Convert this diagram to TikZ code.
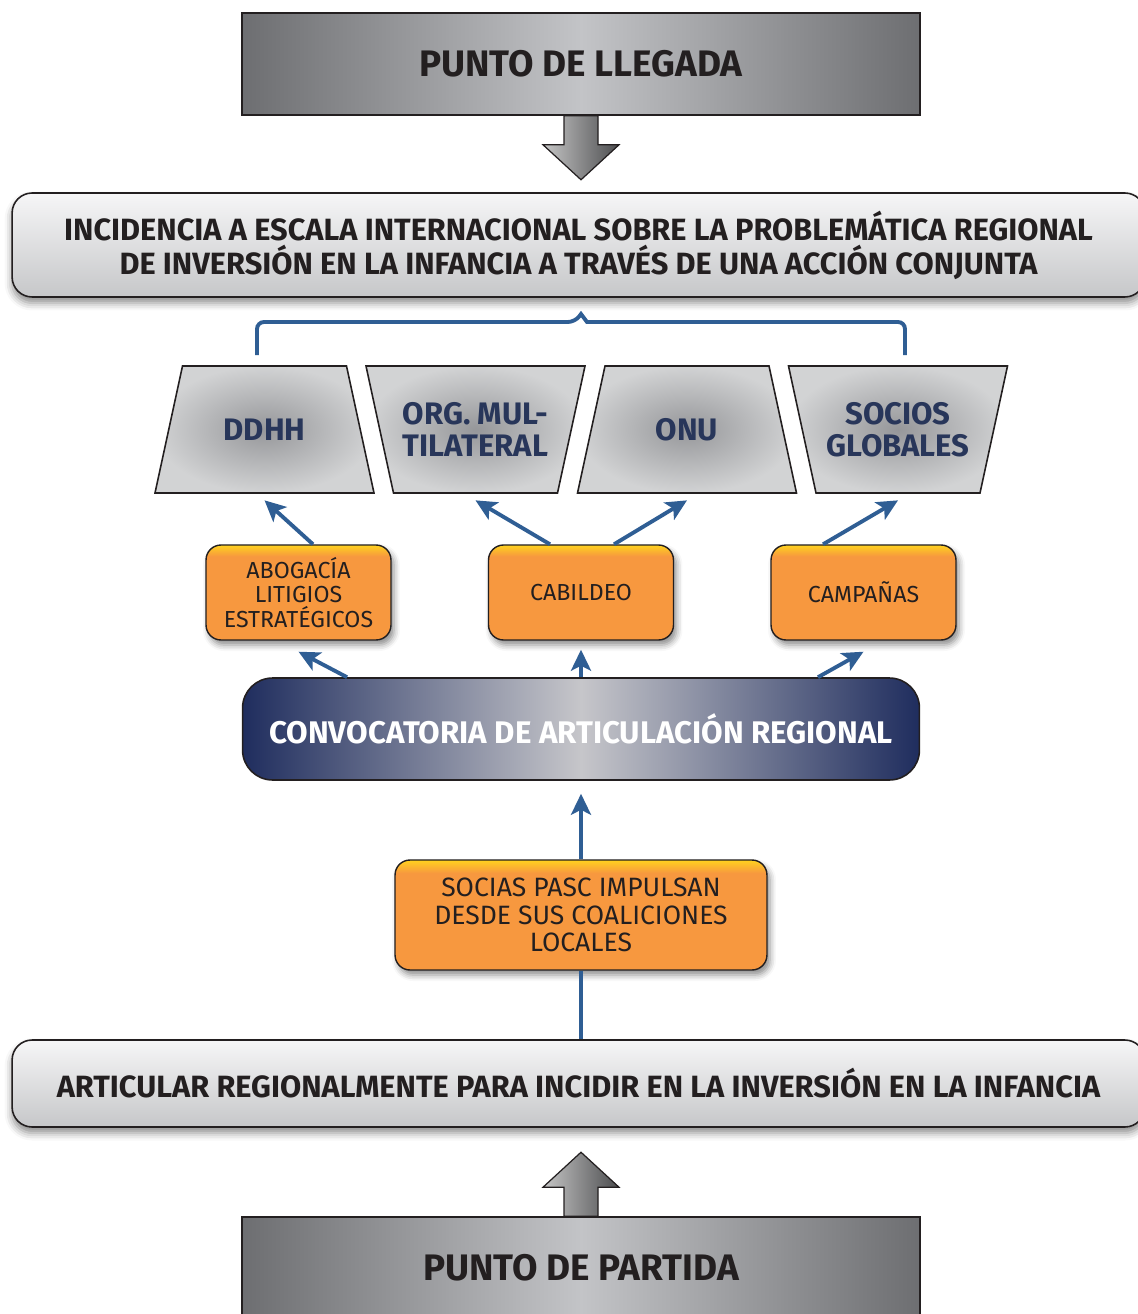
\documentclass[tikz,border=0pt]{standalone}
\usepackage{fontspec}
\setmainfont{Fira Sans}
\usetikzlibrary{positioning,arrows.meta,shadows.blur}

\definecolor{boxdark}{HTML}{6D6E71}
\definecolor{boxlight}{HTML}{C3C4C7}
\definecolor{paneltop}{HTML}{F6F6F7}
\definecolor{panelbot}{HTML}{C6C7C9}
\definecolor{trapin}{HTML}{96979A}
\definecolor{trapout}{HTML}{D2D3D4}
\definecolor{boxorange}{HTML}{F7983F}
\definecolor{boxyellow}{HTML}{FFD21F}
\definecolor{linkblue}{HTML}{2F5E94}
\definecolor{navy}{HTML}{1F2D5E}
\definecolor{navylight}{HTML}{C6C6CA}
\definecolor{inkdark}{HTML}{231F20}
\definecolor{inknavy}{HTML}{28365A}

\pgfdeclareverticalshading{orangetop}{100bp}{color(0bp)=(boxorange); color(69bp)=(boxorange); color(75bp)=(boxyellow); color(100bp)=(boxyellow)}

\begin{document}
\begin{tikzpicture}[x=0.02cm,y=-0.02cm,
  endbox/.style={draw=inkdark,line width=0.9pt,minimum width=13.56cm,minimum height=2.04cm,
    left color=boxdark,right color=boxdark,middle color=boxlight,
    text=inkdark,font=\bfseries\fontsize{21}{24}\selectfont},
  panel/.style={draw=inkdark,line width=0.9pt,rounded corners=0.4cm,minimum width=22.66cm,
    top color=paneltop,bottom color=panelbot,text=inkdark,align=center,
    blur shadow={shadow xshift=0pt,shadow yshift=-1.2mm,shadow blur radius=1.5mm,shadow opacity=45},
    font=\bfseries\fontsize{17.5}{19.3}\selectfont},
  trapshape/.style={draw=inkdark,line width=0.9pt,inner color=trapin,outer color=trapout},
  target/.style={minimum width=4.38cm,minimum height=2.54cm,
    text=inknavy,align=center,font=\bfseries\fontsize{17.7}{18.2}\selectfont},
  action/.style={draw=inkdark,line width=0.8pt,rounded corners=0.3cm,
    shade,shading=orangetop,minimum width=3.7cm,minimum height=1.9cm,align=center,text=inkdark,
    blur shadow={shadow xshift=0.6mm,shadow yshift=-1mm,shadow blur radius=1.2mm,shadow opacity=45},
    font=\fontsize{13.2}{13.9}\selectfont},
  hub/.style={draw=inkdark,line width=0.9pt,rounded corners=0.6cm,minimum width=13.54cm,
    minimum height=2.04cm,left color=navy,right color=navy,middle color=navylight,
    text=white,font=\bfseries\fontsize{17.8}{19}\selectfont},
  link/.style={draw=linkblue,line width=2.2pt,-{Stealth[length=0.42cm,width=0.4cm,inset=0.1cm]}},
  bigarrow/.style={draw=inkdark,line width=0.7pt,left color=gray!45,right color=boxdark!70!black}
]

  \useasboundingbox (0,0) rectangle (1138,1314);

  % goal and start
  \node[endbox] (llegada) at (581,64) {PUNTO DE LLEGADA};
  \node[endbox] (partida) at (581,1268) {PUNTO DE PARTIDA};

  \node[panel,minimum height=2.08cm] (incidencia) at (578.5,245)
    {INCIDENCIA A ESCALA INTERNACIONAL SOBRE LA PROBLEMÁTICA REGIONAL\\
     DE INVERSIÓN EN LA INFANCIA A TRAVÉS DE UNA ACCIÓN CONJUNTA};
  \node[panel,minimum height=1.74cm] (articular) at (578.5,1083.5)
    {ARTICULAR REGIONALMENTE PARA INCIDIR EN LA INVERSIÓN EN LA INFANCIA};

  % targets (1 = wide at the bottom, -1 = wide at the top)
  \foreach \cx/\dir in {264.5/1,475.5/-1,687/1,898/-1} {
    \draw[trapshape,shift={(\cx,429.5)}]
      ({-(95.75-13.75*\dir)},-63.5) -- ({95.75-13.75*\dir},-63.5)
      -- ({95.75+13.75*\dir},63.5) -- ({-(95.75+13.75*\dir)},63.5) -- cycle;
  }
  \node[target] (ddhh) at (264.5,429.5) {DDHH};
  \node[target] (multi) at (475.5,429.5) {ORG. MUL-\\TILATERAL};
  \node[target] (onu) at (687,429.5) {ONU};
  \node[target] (socios) at (898,429.5) {SOCIOS\\GLOBALES};

  % actions
  \node[action] (abogacia) at (298.5,592.5) {ABOGACÍA\\LITIGIOS\\ESTRATÉGICOS};
  \node[action] (cabildeo) at (581,592.5) {CABILDEO};
  \node[action] (campanas) at (863.5,592.5) {CAMPAÑAS};

  \node[hub] (convocatoria) at (581,729) {CONVOCATORIA DE ARTICULACIÓN REGIONAL};

  \node[action,minimum width=7.44cm,minimum height=2.2cm,font=\fontsize{15.1}{15.6}\selectfont]
    (socias) at (581,915) {SOCIAS PASC IMPULSAN\\DESDE SUS COALICIONES\\LOCALES};

  % brace over the targets
  \draw[linkblue,line width=2.2pt,rounded corners=0.14cm]
    (257,355) -- (257,322) -- (575,322) [sharp corners]-- (581,314) -- (587,322)
    [rounded corners=0.14cm]-- (905,322) -- (905,355);

  % big arrows
  \draw[bigarrow,shift={(llegada.south)}]
    (-17,0) -- (-17,29) -- (-38,29) -- (0,64) -- (38,29) -- (17,29) -- (17,0) -- cycle;
  \draw[bigarrow,shift={(partida.north)}]
    (-17,0) -- (-17,-29) -- (-38,-29) -- (0,-64) -- (38,-29) -- (17,-29) -- (17,0) -- cycle;

  % links
  \draw[link] ([xshift=0.29cm]abogacia.north) -- ([yshift=-0.14cm]ddhh.south);
  \draw[link] ([xshift=-0.62cm]cabildeo.north) -- ([yshift=-0.14cm]multi.south);
  \draw[link] ([xshift=0.66cm]cabildeo.north) -- ([yshift=-0.14cm]onu.south);
  \draw[link] ([xshift=-0.81cm]campanas.north) -- ([yshift=-0.14cm]socios.south);

  \draw[link] ([xshift=-4.68cm]convocatoria.north) -- ([yshift=-0.22cm]abogacia.south);
  \draw[link] (convocatoria.north) -- ([yshift=-0.18cm]cabildeo.south);
  \draw[link] ([xshift=4.74cm]convocatoria.north) -- ([yshift=-0.22cm]campanas.south);

  \draw[link] (socias.north) -- ([yshift=-0.26cm]convocatoria.south);
  \draw[linkblue,line width=2.2pt] (socias.south) -- (socias.south |- articular.north);

\end{tikzpicture}
\end{document}
